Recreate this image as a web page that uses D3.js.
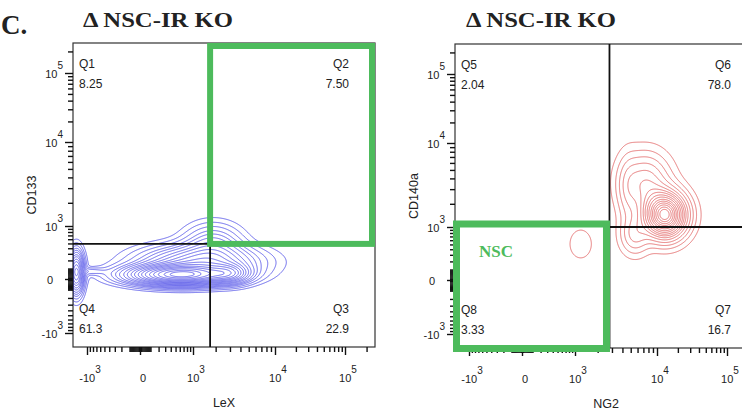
<!DOCTYPE html>
<html>
<head>
<meta charset="utf-8">
<script src="https://cdn.jsdelivr.net/npm/d3@7"></script>
<style>
  body { margin: 0; background: #fff; }
  svg { display: block; }
  text { font-family: "Liberation Sans", Arial, sans-serif; fill: #222; }
  .serif { font-family: "Liberation Serif", "Times New Roman", serif; font-weight: bold; }
</style>
</head>
<body>
<svg id="chart" width="742" height="414"></svg>
<script>
// axis ticks (biexponential display, same for every axis)
const majorTicks = [-1000, 0, 1000, 10000, 100000];
const minorTicks = [-900, -800, -700, -600, -500, -400, -300, -200, -100,
  -90, -80, -70, -60, -50, -40, -30, -20, -10,
  10, 20, 30, 40, 50, 60, 70, 80, 90,
  100, 200, 300, 400, 500, 600, 700, 800, 900,
  2000, 3000, 4000, 5000, 6000, 7000, 8000, 9000,
  20000, 30000, 40000, 50000, 60000, 70000, 80000, 90000, 200000];
const axisStops = [-1000, 0, 1000, 10000, 100000, 262144];

// panel 1: LeX vs CD133
const leftTitle = "Δ NSC-IR KO";
const leftXLabel = "LeX", leftYLabel = "CD133";
const leftGate = [1700, 490];            // LeX, CD133 thresholds
const leftQuadNames = ["Q1", "Q2", "Q3", "Q4"];
const leftQuadValues = ["8.25", "7.50", "22.9", "61.3"];
// density components of the blue population
const leftPopX  = [600, 1250, 1850, 3000, -1450, -900];
const leftPopY  = [35, 180, 470, 50, 60, 70];
const leftPopSX = [0.10, 0.116, 0.06, 0.04, 0.015, 0.033];
const leftPopSY = [0.02, 0.033, 0.043, 0.02, 0.042, 0.008];
const leftPopW  = [1, 0.35, 0.15, 0.3, 0.5, 0.06];
const leftLevels = [0.015, 0.03, 0.05, 0.075, 0.1, 0.13, 0.17, 0.21, 0.26, 0.31,
  0.37, 0.43, 0.5, 0.58, 0.66, 0.75, 0.85, 0.93];

// panel 2: NG2 vs CD140a
const rightTitle = "Δ NSC-IR KO";
const rightXLabel = "NG2", rightYLabel = "CD140a";
const rightGate = [2800, 1000];
const rightQuadNames = ["Q5", "Q6", "Q7", "Q8"];
const rightQuadValues = ["2.04", "78.0", "16.7", "3.33"];
const rightPopX  = [13000, 7400, 5600, 4650, 1200];
const rightPopY  = [1450, 3600, 740, 2900, 510];
const rightPopSX = [0.043, 0.05, 0.03, 0.023, 0.034];
const rightPopSY = [0.046, 0.059, 0.04, 0.072, 0.044];
const rightPopW  = [1, 0.25, 0.15, 0.08, 0.035];
const rightLevels = [0.02, 0.05, 0.09, 0.14, 0.2, 0.26, 0.32, 0.38, 0.45, 0.52,
  0.6, 0.67, 0.74, 0.81, 0.88, 0.94];

const W = 302, H = 304;
const green = "#4dbb5c";
const svg = d3.select("#chart");

function fmtBase(v) { return v === 0 ? "0" : (v < 0 ? "-10" : "10"); }
function fmtExp(v) { return v === 0 ? "" : String(Math.round(Math.log10(Math.abs(v)))); }

function drawPanel(ox, oy, p) {
  const X = d3.scaleSymlog().constant(292).domain(axisStops).range([14, 67, 120, 202, 272, 302]);
  const Y = d3.scaleSymlog().constant(292).domain(axisStops).range([H - 14, H - 68, H - 121, H - 205, H - 274, 0]);

  const g = svg.append("g").attr("transform", `translate(${ox},${oy})`);
  const clipId = "clip" + ox;
  g.append("clipPath").attr("id", clipId).append("rect").attr("width", W).attr("height", H);

  // density grid -> contours
  const vals = new Float64Array(W * H);
  const cx = p.popX.map(X), cy = p.popY.map(Y);
  for (let j = 0; j < H; j++) {
    for (let i = 0; i < W; i++) {
      let s = 0;
      for (let k = 0; k < cx.length; k++) {
        const dx = (i + 0.5 - cx[k]) / (p.popSX[k] * W);
        const dy = (j + 0.5 - cy[k]) / (p.popSY[k] * H);
        s += p.popW[k] * Math.exp(-0.5 * (dx * dx + dy * dy));
      }
      vals[j * W + i] = s;
    }
  }
  const mx = d3.max(vals);
  const contours = d3.contours().size([W, H]).thresholds(p.levels.map(l => l * mx))(vals);
  g.append("g").attr("clip-path", `url(#${clipId})`)
    .selectAll("path").data(contours).join("path")
    .attr("d", d3.geoPath())
    .attr("fill", "none")
    .attr("stroke", p.color)
    .attr("stroke-width", 0.8);

  // frame
  g.append("rect").attr("width", W).attr("height", H)
    .attr("fill", "none").attr("stroke", "#333").attr("stroke-width", 1.2);

  // axes
  const xb = g.append("g").attr("transform", `translate(0,${H})`);
  xb.append("g").call(d3.axisBottom(X).tickValues(minorTicks).tickSize(5).tickFormat(""));
  xb.append("g").call(d3.axisBottom(X).tickValues(majorTicks).tickSize(8).tickFormat(""));
  const yb = g.append("g");
  yb.append("g").call(d3.axisLeft(Y).tickValues(minorTicks).tickSize(5).tickFormat(""));
  yb.append("g").call(d3.axisLeft(Y).tickValues(majorTicks).tickSize(8).tickFormat(""));
  g.selectAll(".domain").remove();
  g.selectAll(".tick line").attr("stroke", "#111").attr("stroke-width", 1.4);

  // tick labels with superscripts
  majorTicks.forEach(v => {
    const t = g.append("text").attr("x", X(v) + 3).attr("y", H + 35)
      .attr("text-anchor", "middle").attr("font-size", 11).text(fmtBase(v));
    if (v !== 0) t.append("tspan").attr("dy", -9).attr("font-size", 10).text(fmtExp(v));
    const ty = g.append("text").attr("x", v === 0 ? -20 : -10).attr("y", Y(v) + 5)
      .attr("text-anchor", "end").attr("font-size", 11).text(fmtBase(v));
    if (v !== 0) ty.append("tspan").attr("dy", -9).attr("font-size", 10).text(fmtExp(v));
  });

  // axis titles
  g.append("text").attr("x", W / 2).attr("y", H + 60).attr("text-anchor", "middle")
    .attr("font-size", 12.5).text(p.xLabel);
  g.append("text").attr("transform", `translate(${-37},${H / 2}) rotate(-90)`)
    .attr("text-anchor", "middle").attr("font-size", 12.5).text(p.yLabel);

  // quadrant labels
  const qx = [6, W - 26, W - 26, 6], qa = ["start", "end", "end", "start"];
  const qy = [25, 25, H - 34, H - 34];
  p.quadNames.forEach((q, i) => {
    g.append("text").attr("x", qx[i]).attr("y", qy[i]).attr("text-anchor", qa[i])
      .attr("font-size", 12).attr("fill", "#333").text(q);
    g.append("text").attr("x", qx[i]).attr("y", qy[i] + 20).attr("text-anchor", qa[i])
      .attr("font-size", 12).attr("fill", "#333").text(p.quadValues[i]);
  });

  // title
  svg.append("text").attr("class", "serif").attr("x", ox + p.titleDx).attr("y", 27)
    .attr("font-size", 21).attr("textLength", 150).attr("lengthAdjust", "spacingAndGlyphs")
    .attr("fill", "#111").text(p.title);

  return { g, X, Y };
}

// panel 1
const a = drawPanel(73, 43, {
  popX: leftPopX, popY: leftPopY, popSX: leftPopSX, popSY: leftPopSY, popW: leftPopW,
  levels: leftLevels, color: "#4646e6", xLabel: leftXLabel, yLabel: leftYLabel,
  quadNames: leftQuadNames, quadValues: leftQuadValues, title: leftTitle, titleDx: 10
});
{
  const gx = a.X(leftGate[0]), gy = a.Y(leftGate[1]);
  a.g.append("line").attr("x1", gx).attr("x2", gx).attr("y1", gy).attr("y2", H)
    .attr("stroke", "#111").attr("stroke-width", 1.8);
  a.g.append("line").attr("x1", 0).attr("x2", gx).attr("y1", gy).attr("y2", gy)
    .attr("stroke", "#111").attr("stroke-width", 1.8);
  a.g.append("rect").attr("x", gx).attr("y", 3).attr("width", W - 3 - gx).attr("height", gy - 3)
    .attr("fill", "none").attr("stroke", green).attr("stroke-width", 6);
}

// panel 2
const b = drawPanel(455, 44, {
  popX: rightPopX, popY: rightPopY, popSX: rightPopSX, popSY: rightPopSY, popW: rightPopW,
  levels: rightLevels, color: "#e05a5a", xLabel: rightXLabel, yLabel: rightYLabel,
  quadNames: rightQuadNames, quadValues: rightQuadValues, title: rightTitle, titleDx: 11
});
{
  const gx = b.X(rightGate[0]), gy = b.Y(rightGate[1]);
  b.g.append("line").attr("x1", gx).attr("x2", gx).attr("y1", 0).attr("y2", H)
    .attr("stroke", "#111").attr("stroke-width", 1.8);
  b.g.append("line").attr("x1", gx).attr("x2", W).attr("y1", gy).attr("y2", gy)
    .attr("stroke", "#111").attr("stroke-width", 1.8);
  b.g.append("rect").attr("x", 1.5).attr("y", gy - 3).attr("width", gx - 4.5).attr("height", H - gy + 3.5)
    .attr("fill", "none").attr("stroke", green).attr("stroke-width", 7);
  b.g.append("text").attr("class", "serif").attr("x", 24).attr("y", gy + 30)
    .attr("font-size", 17).style("fill", green).text("NSC");
}

svg.append("text").attr("class", "serif").attr("x", 1).attr("y", 34)
  .attr("font-size", 27).attr("fill", "#111").text("C.");
</script>
</body>
</html>
